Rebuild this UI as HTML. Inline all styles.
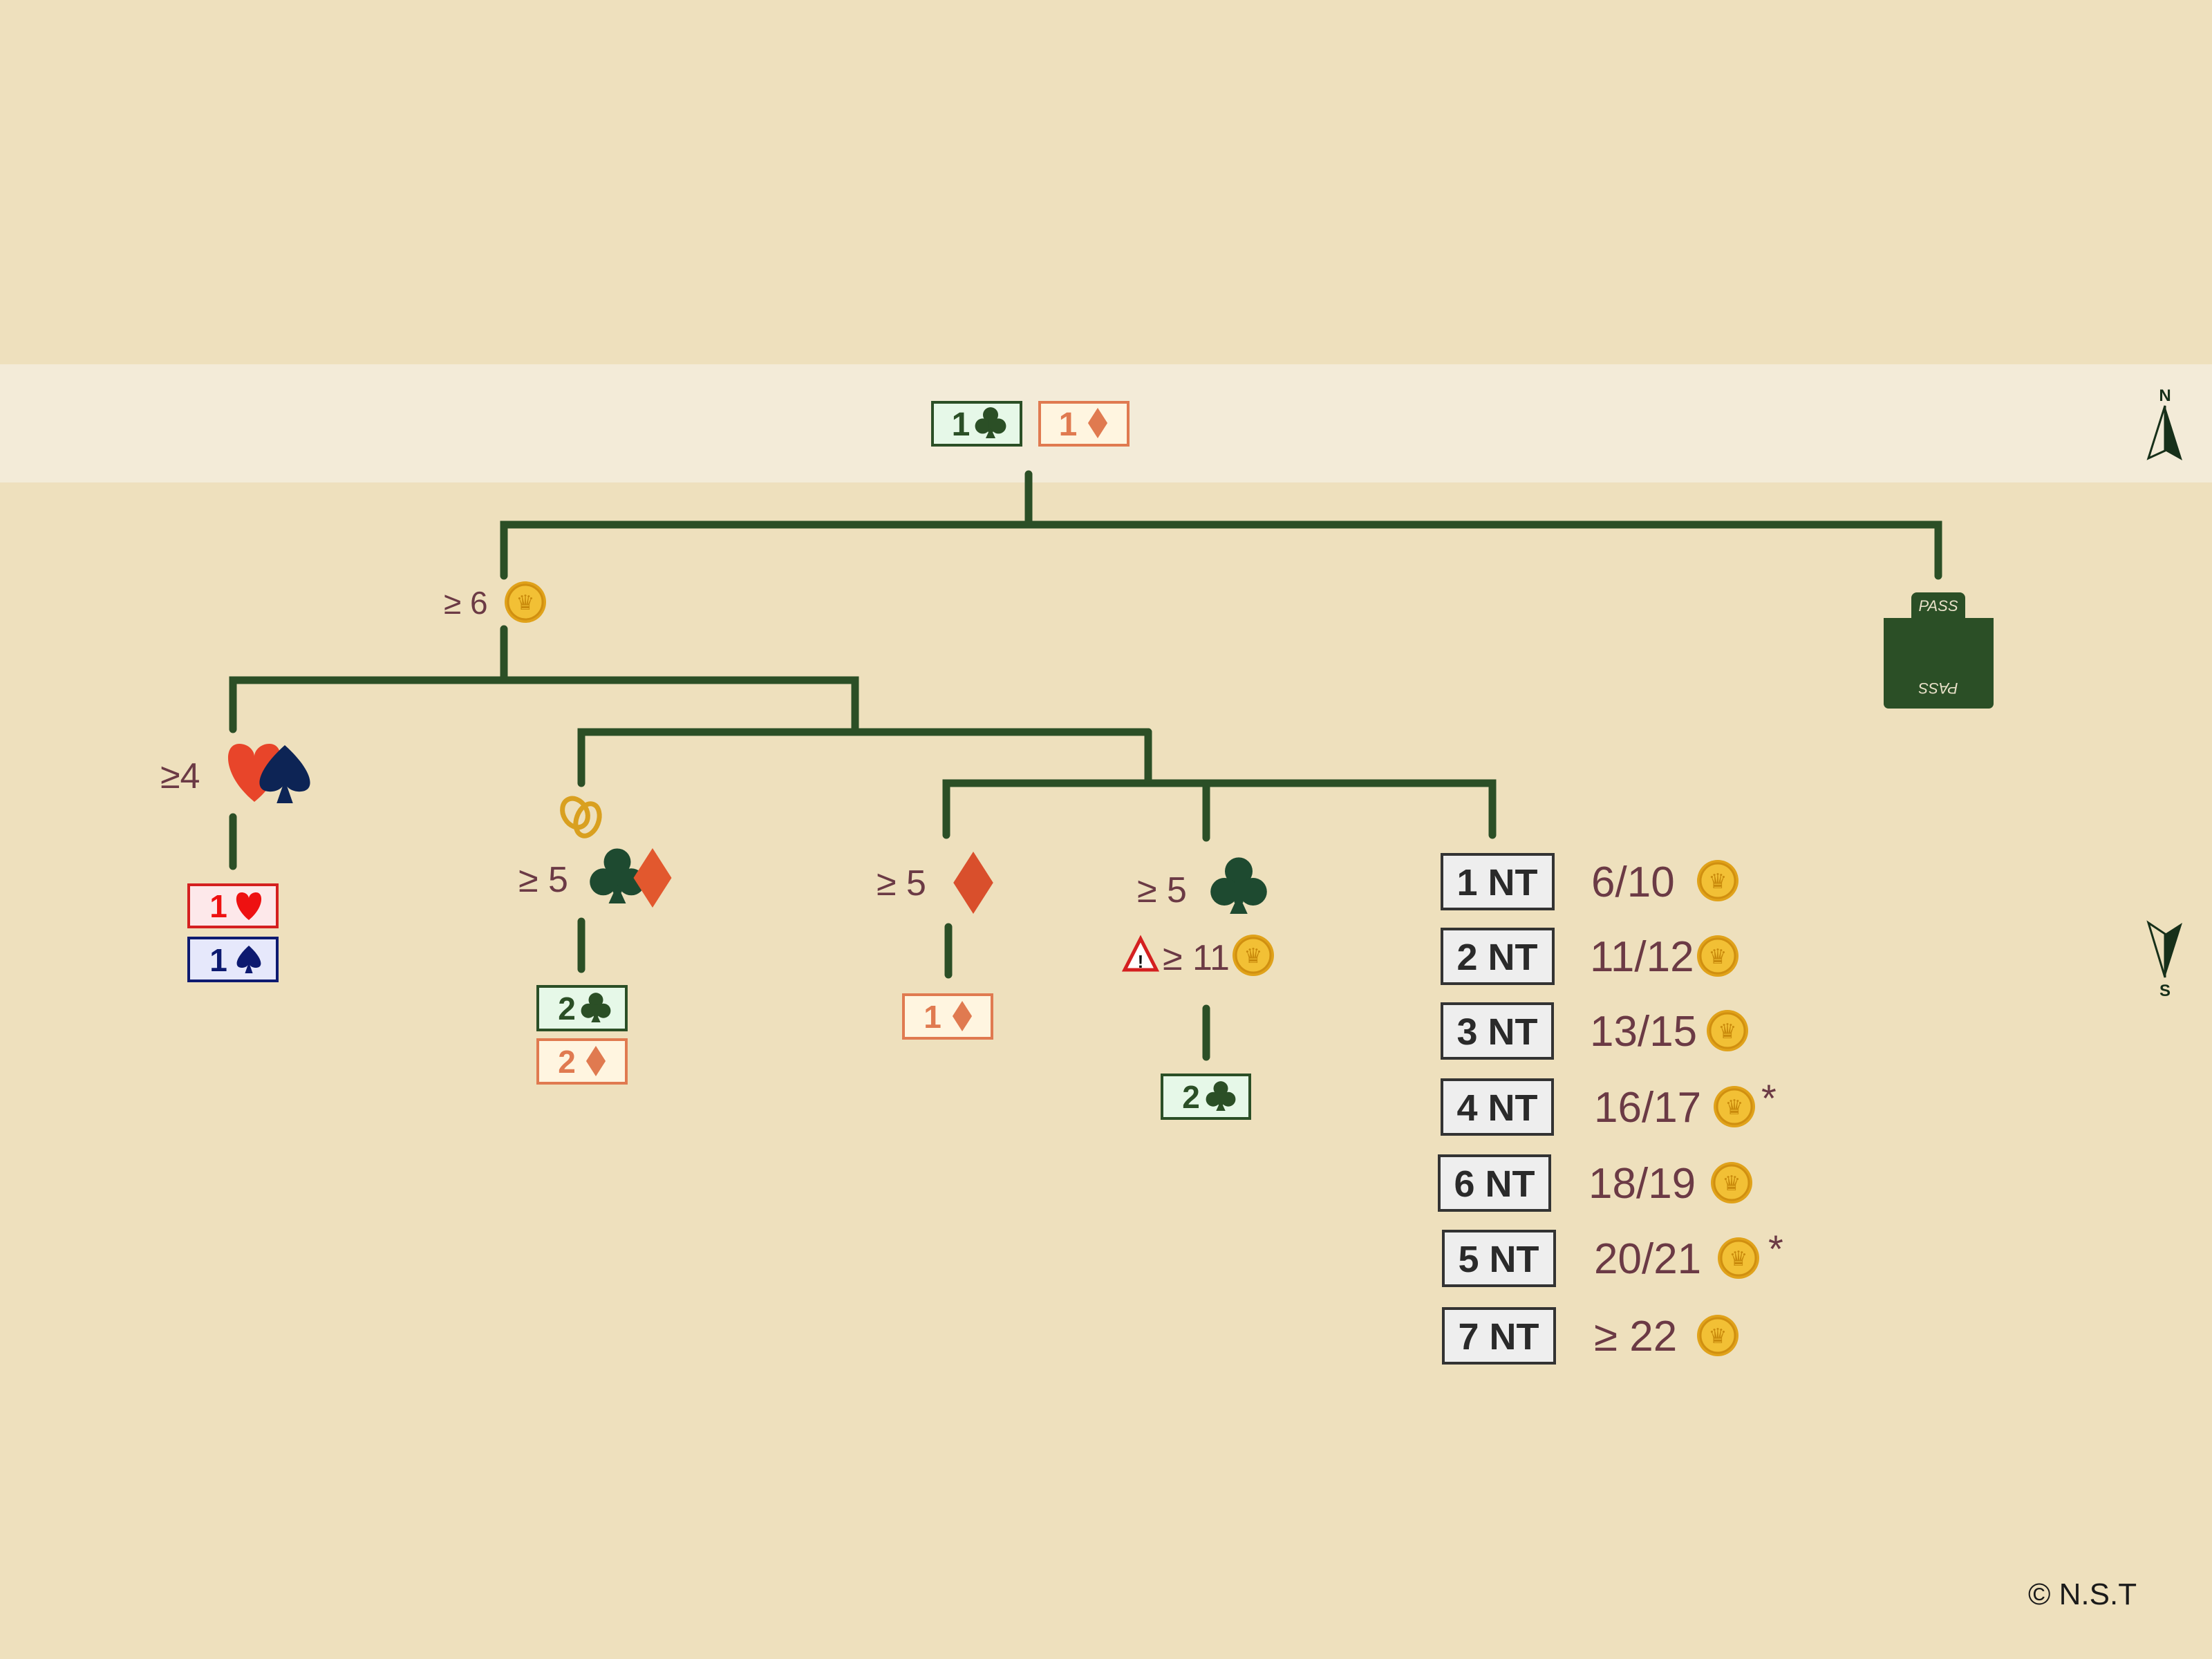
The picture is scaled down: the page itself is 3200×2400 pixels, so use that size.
<!DOCTYPE html>
<html><head><meta charset="utf-8"><style>
html,body{margin:0;padding:0;background:#eee0bd}
svg{display:block}
text{font-family:"Liberation Sans",sans-serif}
</style></head><body>
<svg width="3200" height="2400" viewBox="0 0 3200 2400" xmlns="http://www.w3.org/2000/svg">
<defs>
<g id="coin"><circle r="30" fill="#e0a21a"/><circle r="25" fill="#f2c035" stroke="#d08f10" stroke-width="3"/><text y="11" text-anchor="middle" font-size="30" fill="#c98a0c">♛</text></g>
<g id="club"><circle cx="0" cy="-0.27" r="0.25"/><circle cx="-0.26" cy="0.1" r="0.25"/><circle cx="0.26" cy="0.1" r="0.25"/><rect x="-0.08" y="-0.1" width="0.16" height="0.4"/><polygon points="0,0.15 -0.16,0.5 0.16,0.5"/></g>
<polygon id="diamond" points="0,-0.5 0.32,0 0,0.5 -0.32,0"/>
<path id="heart" d="M0,0.5 C-0.55,0.05 -0.55,-0.5 -0.26,-0.5 C-0.1,-0.5 0,-0.38 0,-0.28 C0,-0.38 0.1,-0.5 0.26,-0.5 C0.55,-0.5 0.55,0.05 0,0.5Z"/>
<g id="spade"><path d="M0,-0.5 C-0.5,-0.05 -0.55,0.3 -0.25,0.3 C-0.1,0.3 0,0.2 0,0.12 C0,0.2 0.1,0.3 0.25,0.3 C0.55,0.3 0.5,-0.05 0,-0.5Z"/><polygon points="0,0.1 -0.14,0.5 0.14,0.5"/></g>
</defs>
<rect width="3200" height="2400" fill="#eee0bd"/>
<rect y="527" width="3200" height="171" fill="#f3ebd8"/>

<!-- connectors -->
<g stroke="#2b4f26" stroke-width="11" fill="none" stroke-linecap="round">
<line x1="1488" y1="686" x2="1488" y2="759"/>
<polyline points="729,833 729,759 2804,759 2804,833"/>
<line x1="729" y1="910" x2="729" y2="984"/>
<polyline points="337,1055 337,984 1237,984 1237,1059"/>
<polyline points="841,1133 841,1059 1661,1059"/>
<polyline points="1369,1208 1369,1133 2159,1133 2159,1208"/>
<line x1="1661" y1="1059" x2="1661" y2="1133"/>
<line x1="1745" y1="1133" x2="1745" y2="1212"/>
<line x1="337" y1="1182" x2="337" y2="1253"/>
<line x1="841" y1="1333" x2="841" y2="1402"/>
<line x1="1372" y1="1341" x2="1372" y2="1410"/>
<line x1="1745" y1="1459" x2="1745" y2="1529"/>
</g>

<!-- top boxes -->
<rect x="1349" y="582" width="128" height="62" fill="#e6f8e8" stroke="#2b4f26" stroke-width="4"/>
<text x="1390" y="630" text-anchor="middle" font-size="48" font-weight="bold" fill="#2b4f26">1</text>
<use href="#club" transform="translate(1433,612) scale(44)" fill="#2b4f26"/>
<rect x="1504" y="582" width="128" height="62" fill="#fff5e0" stroke="#e07a50" stroke-width="4"/>
<text x="1545" y="630" text-anchor="middle" font-size="48" font-weight="bold" fill="#e07a50">1</text>
<use href="#diamond" transform="translate(1588,612) scale(44)" fill="#e07a50"/>

<!-- >=6 -->
<text x="642" y="888" font-size="46" fill="#6b3a45">≥ 6</text>
<use href="#coin" x="760" y="871"/>

<!-- PASS -->
<path d="M2773,857 h62 a8,8 0 0 1 8,8 v29 h41 v124 a7,7 0 0 1 -7,7 h-145 a7,7 0 0 1 -7,-7 v-124 h40 v-29 a8,8 0 0 1 8,-8z" fill="#2b4f26"/>
<text x="2804" y="884" text-anchor="middle" font-size="22" font-style="italic" fill="#e8e0c8" font-family="Liberation Serif">PASS</text>
<text x="2804" y="1002" text-anchor="middle" font-size="22" font-style="italic" fill="#e8e0c8" font-family="Liberation Serif" transform="rotate(180 2804 995)">PASS</text>

<!-- >=4 hearts spades -->
<text x="232" y="1140" font-size="52" fill="#6b3a45">≥4</text>
<use href="#heart" transform="translate(368,1118) scale(84)" fill="#e8452a"/>
<use href="#spade" transform="translate(412,1120) scale(84)" fill="#0d2455"/>
<rect x="273" y="1280" width="128" height="61" fill="#fde8ea" stroke="#d42020" stroke-width="4"/>
<text x="316" y="1327" text-anchor="middle" font-size="46" font-weight="bold" fill="#ee1111">1</text>
<use href="#heart" transform="translate(360,1311) scale(40)" fill="#ee1111"/>
<rect x="273" y="1357" width="128" height="62" fill="#e6e8fb" stroke="#0d1a70" stroke-width="4"/>
<text x="316" y="1405" text-anchor="middle" font-size="46" font-weight="bold" fill="#0d1a70">1</text>
<use href="#spade" transform="translate(360,1388) scale(40)" fill="#0d1a70"/>

<!-- rings -->
<g fill="none" stroke="#d9a020" stroke-width="7">
<ellipse cx="832" cy="1176" rx="17" ry="22" transform="rotate(-30 832 1176)"/>
<ellipse cx="850" cy="1186" rx="16" ry="24" transform="rotate(20 850 1186)"/>
</g>

<!-- >=5 clubs diamonds -->
<text x="750" y="1290" font-size="52" fill="#6b3a45">≥ 5</text>
<use href="#club" transform="translate(893,1268) scale(78)" fill="#1e4a30"/>
<use href="#diamond" transform="translate(944,1270) scale(86)" fill="#e2582e"/>
<rect x="778" y="1427" width="128" height="63" fill="#e6f8e8" stroke="#2b4f26" stroke-width="4"/>
<text x="820" y="1475" text-anchor="middle" font-size="46" font-weight="bold" fill="#2b4f26">2</text>
<use href="#club" transform="translate(862,1458) scale(42)" fill="#2b4f26"/>
<rect x="778" y="1504" width="128" height="63" fill="#fff5e0" stroke="#e07a50" stroke-width="4"/>
<text x="820" y="1552" text-anchor="middle" font-size="46" font-weight="bold" fill="#e07a50">2</text>
<use href="#diamond" transform="translate(862,1535) scale(44)" fill="#e07a50"/>

<!-- >=5 diamond -->
<text x="1268" y="1295" font-size="52" fill="#6b3a45">≥ 5</text>
<use href="#diamond" transform="translate(1408,1277) scale(90)" fill="#d94f2c"/>
<rect x="1307" y="1439" width="128" height="63" fill="#fff5e0" stroke="#e07a50" stroke-width="4"/>
<text x="1349" y="1487" text-anchor="middle" font-size="46" font-weight="bold" fill="#e07a50">1</text>
<use href="#diamond" transform="translate(1392,1470) scale(44)" fill="#e07a50"/>

<!-- >=5 clubs, >=11 -->
<text x="1645" y="1305" font-size="52" fill="#6b3a45">≥ 5</text>
<use href="#club" transform="translate(1792,1282) scale(80)" fill="#1e4a30"/>
<polygon points="1650,1358 1673,1403 1627,1403" fill="#fff" stroke="#d42020" stroke-width="5"/>
<text x="1650" y="1400" text-anchor="middle" font-size="26" font-weight="bold" fill="#111">!</text>
<text x="1682" y="1403" font-size="52" fill="#6b3a45">≥ 11</text>
<use href="#coin" x="1813" y="1382"/>
<rect x="1681" y="1555" width="127" height="63" fill="#e6f8e8" stroke="#2b4f26" stroke-width="4"/>
<text x="1723" y="1603" text-anchor="middle" font-size="46" font-weight="bold" fill="#2b4f26">2</text>
<use href="#club" transform="translate(1766,1586) scale(42)" fill="#2b4f26"/>

<!-- NT ladder -->
<g font-size="54" font-weight="bold" fill="#2a2a2a" text-anchor="middle">
<rect x="2086" y="1236" width="161" height="79" fill="#eeeeee" stroke="#333" stroke-width="4"/><text x="2166" y="1295">1 NT</text>
<rect x="2086" y="1344" width="161" height="79" fill="#eeeeee" stroke="#333" stroke-width="4"/><text x="2166" y="1403">2 NT</text>
<rect x="2086" y="1452" width="160" height="79" fill="#eeeeee" stroke="#333" stroke-width="4"/><text x="2166" y="1511">3 NT</text>
<rect x="2086" y="1562" width="160" height="79" fill="#eeeeee" stroke="#333" stroke-width="4"/><text x="2166" y="1621">4 NT</text>
<rect x="2082" y="1672" width="160" height="79" fill="#eeeeee" stroke="#333" stroke-width="4"/><text x="2162" y="1731">6 NT</text>
<rect x="2088" y="1781" width="161" height="79" fill="#eeeeee" stroke="#333" stroke-width="4"/><text x="2168" y="1840">5 NT</text>
<rect x="2088" y="1893" width="161" height="79" fill="#eeeeee" stroke="#333" stroke-width="4"/><text x="2168" y="1952">7 NT</text>
</g>
<g font-size="62" fill="#6b3a45">
<text x="2302" y="1297">6/10</text>
<text x="2300" y="1405">11/12</text>
<text x="2300" y="1513">13/15</text>
<text x="2306" y="1623">16/17</text>
<text x="2298" y="1733">18/19</text>
<text x="2306" y="1842">20/21</text>
<text x="2306" y="1954">≥ 22</text>
</g>
<use href="#coin" x="2485" y="1274"/>
<use href="#coin" x="2485" y="1383"/>
<use href="#coin" x="2499" y="1491"/>
<use href="#coin" x="2509" y="1601"/>
<use href="#coin" x="2505" y="1711"/>
<use href="#coin" x="2515" y="1820"/>
<use href="#coin" x="2485" y="1932"/>
<text x="2548" y="1608" font-size="56" fill="#6b3a45">*</text>
<text x="2558" y="1826" font-size="56" fill="#6b3a45">*</text>

<!-- compass -->
<text x="3132" y="580" text-anchor="middle" font-size="24" font-weight="bold" fill="#17301a">N</text>
<polygon points="3132,587 3108,663 3132,652" fill="none" stroke="#17301a" stroke-width="3"/>
<polygon points="3132,587 3157,666 3132,652" fill="#17301a"/>
<polygon points="3108,1335 3132,1414 3132,1351" fill="none" stroke="#17301a" stroke-width="3"/>
<polygon points="3157,1335 3132,1414 3132,1351" fill="#17301a"/>
<text x="3132" y="1441" text-anchor="middle" font-size="24" font-weight="bold" fill="#17301a">S</text>

<text x="2934" y="2321" font-size="44" fill="#1a1a1a">© N.S.T</text>
</svg>
</body></html>
